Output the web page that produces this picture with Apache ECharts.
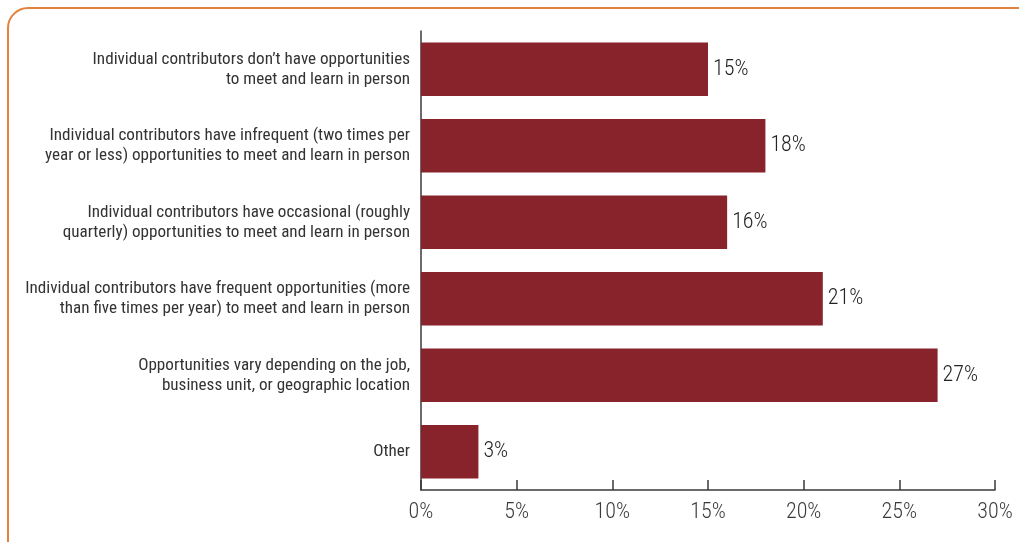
<!DOCTYPE html>
<html>
<head>
<meta charset="utf-8">
<script src="https://cdn.jsdelivr.net/npm/echarts@6/dist/echarts.min.js"></script>
<style>
  html, body { margin: 0; padding: 0; background: #ffffff; }
  #chart { width: 1019px; height: 542px; }
</style>
</head>
<body>
<div id="chart"></div>
<script>
// Survey responses, listed top to bottom
const categories = [
  'Individual contributors don\u2019t have opportunities\nto meet and learn in person',
  'Individual contributors have infrequent (two times per\nyear or less) opportunities to meet and learn in person',
  'Individual contributors have occasional (roughly\nquarterly) opportunities to meet and learn in person',
  'Individual contributors have frequent opportunities (more\nthan five times per year) to meet and learn in person',
  'Opportunities vary depending on the job,\nbusiness unit, or geographic location',
  'Other'
];
const shares = [15, 18, 16, 21, 27, 3];
const tickValues = [0, 5, 10, 15, 20, 25, 30];

const FONT = '"Roboto Condensed", "DejaVu Sans Condensed", sans-serif';

const chart = echarts.init(document.getElementById('chart'), null, { renderer: 'canvas' });

chart.setOption({
  backgroundColor: '#ffffff',
  animation: false,
  graphic: [{
    type: 'rect',
    shape: { x: 8, y: 8, width: 1040, height: 580, r: 20 },
    style: { fill: 'none', stroke: '#e3823f', lineWidth: 2 },
    silent: true,
    z: -1
  }],
  grid: {
    left: 421, right: 24, top: 31, bottom: 52,
    containLabel: false,
    outerBoundsMode: 'none'
  },
  xAxis: {
    type: 'value',
    min: tickValues[0],
    max: tickValues[tickValues.length - 1],
    interval: 5,
    axisLine: { show: true, lineStyle: { color: '#3a3a3a', width: 1.5 } },
    axisTick: { show: true, inside: true, length: 10, lineStyle: { color: '#3a3a3a', width: 1.5 } },
    splitLine: { show: false },
    axisLabel: {
      formatter: v => v + '%',
      color: '#3a3a3a',
      fontFamily: FONT,
      fontWeight: 300,
      fontSize: 22,
      margin: 11
    }
  },
  yAxis: {
    type: 'category',
    inverse: true,
    data: categories,
    axisLine: { show: true, lineStyle: { color: '#3a3a3a', width: 1.5 } },
    axisTick: { show: false },
    axisLabel: {
      color: '#333333',
      fontFamily: FONT,
      fontSize: 17.1,
      lineHeight: 20,
      align: 'right',
      padding: [4, 0, 0, 0],
      margin: 11
    }
  },
  series: [{
    type: 'bar',
    data: shares,
    barWidth: '70%',
    itemStyle: { color: '#88232c' },
    label: {
      show: true,
      position: 'right',
      distance: 5,
      formatter: p => p.value + '%',
      color: '#222222',
      fontFamily: FONT,
      fontWeight: 300,
      fontSize: 22
    },
    z: 3
  }]
});
</script>
</body>
</html>
